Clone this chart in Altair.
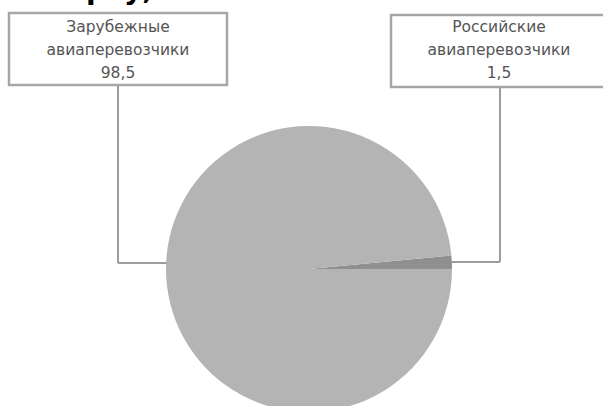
import math
import altair as alt
import pandas as pd

# Data
categories = ["Российские авиаперевозчики", "Зарубежные авиаперевозчики"]
shares = [1.5, 98.5]
order = [0, 1]
slice_colors = ["#8f8f8f", "#b4b4b4"]
title_fragment = "рху,"

W, H = 603, 406
CX, CY, R = 309, 269, 143

pie_df = pd.DataFrame({"cat": categories, "share": shares, "ord": order})

start = math.pi / 2 - 2 * math.pi * shares[0] / sum(shares)

pie = alt.Chart(pie_df).mark_arc(radius=R, stroke=None).encode(
    theta=alt.Theta("share:Q", stack=True,
                    scale=alt.Scale(range=[start, start + 2 * math.pi])),
    order=alt.Order("ord:Q"),
    color=alt.Color("cat:N", scale=alt.Scale(domain=categories, range=slice_colors), legend=None),
    x=alt.value(CX),
    y=alt.value(CY),
)

one = alt.Data(values=[{"a": 1}])
line_col = "#9c9c9c"
box_col = "#a6a6a6"

def rule(x1, y1, x2, y2):
    return alt.Chart(one).mark_rule(color=line_col, strokeWidth=2).encode(
        x=alt.value(x1), y=alt.value(y1), x2=alt.value(x2), y2=alt.value(y2))

def box(x1, y1, x2, y2):
    return alt.Chart(one).mark_rect(fill="white", stroke=box_col, strokeWidth=2.5).encode(
        x=alt.value(x1), y=alt.value(y1), x2=alt.value(x2), y2=alt.value(y2))

def fmt(v):
    return f"{v:.1f}".replace(".", ",")

def label_text(i):
    w1, w2 = categories[i].split(" ")
    return f"{w1}\n{w2}\n{fmt(shares[i])}"

label_df = pd.DataFrame({
    "txt": [label_text(1), label_text(0)],
    "px": [118, 499],
})

labels = alt.Chart(label_df).mark_text(
    font="DejaVu Sans", fontSize=15.5, color="#555555", align="center",
    baseline="alphabetic", lineBreak="\n", lineHeight=23,
).encode(
    x=alt.X("px:Q", scale=alt.Scale(domain=[0, W], range=[0, W]), axis=None),
    y=alt.value(32),
    text="txt:N",
)

title = alt.Chart(one).mark_text(
    font="DejaVu Sans", fontSize=28, fontWeight="bold", color="black",
    align="left", baseline="alphabetic",
).encode(x=alt.value(86), y=alt.value(-1), text=alt.value(title_fragment))

chart = alt.layer(
    rule(118, 85, 118, 263),
    rule(118, 263, 170, 263),
    rule(500, 87, 500, 262),
    rule(445, 262, 500, 262),
    pie,
    box(9, 13, 227, 85),
    box(391, 15, 610, 87),
    labels,
    title,
).properties(
    width=W, height=H, padding=0,
    autosize=alt.AutoSizeParams(type="none"),
).configure_view(stroke=None)

chart.save("out.html", embed_options={"renderer": "svg", "actions": False})
